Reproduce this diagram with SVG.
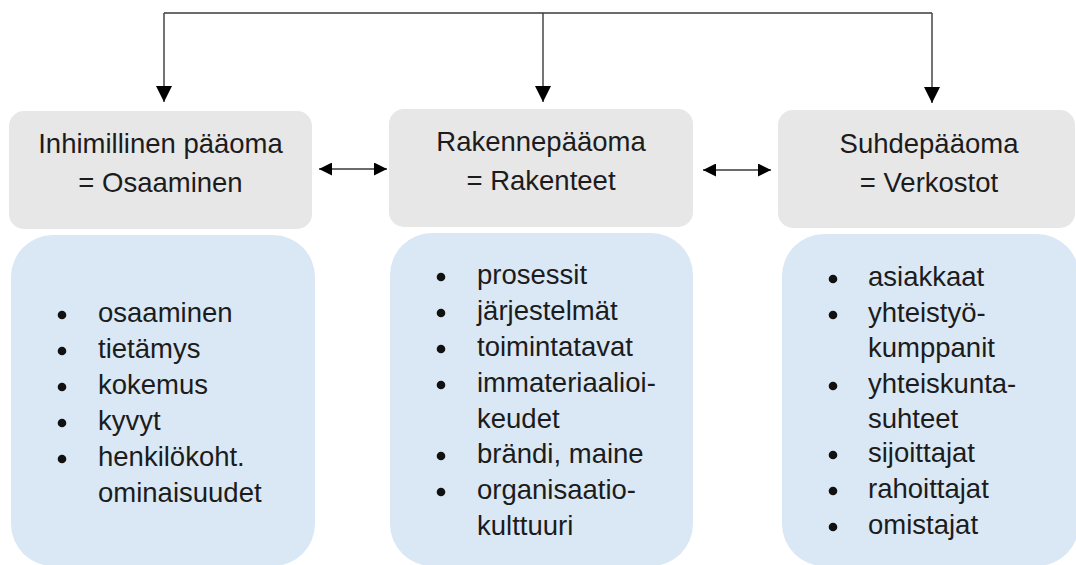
<svg xmlns="http://www.w3.org/2000/svg" width="1076" height="565" viewBox="0 0 1076 565">
<style>
.hdr{fill:#e7e7e7}
.lst{fill:#dae8f5}
.t{font-family:"Liberation Sans",Arial,sans-serif;font-size:27.5px;fill:#1c1c1c}
.c{text-anchor:middle}
.dot{fill:#111}
.ln{stroke:#3a3a3a;stroke-width:1.4;fill:none}
</style>
<defs>
<marker id="ah" markerUnits="userSpaceOnUse" markerWidth="16" markerHeight="16" viewBox="0 0 14 14" refX="14" refY="7" orient="auto-start-reverse">
<path d="M0,0 L14,7 L0,14 Z" fill="#000"/>
</marker>
<marker id="ah2" markerUnits="userSpaceOnUse" markerWidth="13" markerHeight="13" viewBox="0 0 12 12" refX="12" refY="6" orient="auto-start-reverse">
<path d="M0,0 L12,6 L0,12 Z" fill="#000"/>
</marker>
</defs>
<g id="connectors">
<path class="ln" d="M164,13 L932,13"/>
<path class="ln" d="M164,13 L164,102" marker-end="url(#ah)"/>
<path class="ln" d="M543,13 L543,102" marker-end="url(#ah)"/>
<path class="ln" d="M932,13 L932,103" marker-end="url(#ah)"/>
<path class="ln" d="M319,169 L387,169" marker-start="url(#ah2)" marker-end="url(#ah2)"/>
<path class="ln" d="M703,170 L771,170" marker-start="url(#ah2)" marker-end="url(#ah2)"/>
</g>
<g id="node-inhimillinen">
<rect class="hdr" x="9" y="111" width="303" height="118" rx="15"/>
<text class="t c" x="160.5" y="153">Inhimillinen pääoma</text>
<text class="t c" x="160.5" y="192">= Osaaminen</text>
</g>
<g id="node-rakenne">
<rect class="hdr" x="389" y="109" width="304" height="118" rx="15"/>
<text class="t c" x="541" y="151">Rakennepääoma</text>
<text class="t c" x="541" y="190">= Rakenteet</text>
</g>
<g id="node-suhde">
<rect class="hdr" x="778" y="110" width="297" height="118" rx="15"/>
<text class="t c" x="929" y="153">Suhdepääoma</text>
<text class="t c" x="929" y="192">= Verkostot</text>
</g>
<g id="list-inhimillinen">
<rect class="lst" x="11" y="235" width="304" height="331" rx="42"/>
<circle class="dot" cx="62" cy="315" r="4.3"/>
<circle class="dot" cx="62" cy="351" r="4.3"/>
<circle class="dot" cx="62" cy="387" r="4.3"/>
<circle class="dot" cx="62" cy="423" r="4.3"/>
<circle class="dot" cx="62" cy="459" r="4.3"/>
<text class="t" x="98" y="322">osaaminen</text>
<text class="t" x="98" y="358">tietämys</text>
<text class="t" x="98" y="394">kokemus</text>
<text class="t" x="98" y="430">kyvyt</text>
<text class="t" x="98" y="466">henkilökoht.</text>
<text class="t" x="98" y="502">ominaisuudet</text>
</g>
<g id="list-rakenne">
<rect class="lst" x="390" y="233" width="303" height="333" rx="42"/>
<circle class="dot" cx="441" cy="277" r="4.3"/>
<circle class="dot" cx="441" cy="313" r="4.3"/>
<circle class="dot" cx="441" cy="349" r="4.3"/>
<circle class="dot" cx="441" cy="385" r="4.3"/>
<circle class="dot" cx="441" cy="456" r="4.3"/>
<circle class="dot" cx="441" cy="492" r="4.3"/>
<text class="t" x="477" y="284">prosessit</text>
<text class="t" x="477" y="320">järjestelmät</text>
<text class="t" x="477" y="356">toimintatavat</text>
<text class="t" x="477" y="392">immateriaalioi-</text>
<text class="t" x="477" y="428">keudet</text>
<text class="t" x="477" y="463">brändi, maine</text>
<text class="t" x="477" y="499">organisaatio-</text>
<text class="t" x="477" y="535">kulttuuri</text>
</g>
<g id="list-suhde">
<rect class="lst" x="782" y="234" width="297" height="332" rx="42"/>
<circle class="dot" cx="833" cy="279" r="4.3"/>
<circle class="dot" cx="833" cy="315" r="4.3"/>
<circle class="dot" cx="833" cy="386" r="4.3"/>
<circle class="dot" cx="833" cy="455" r="4.3"/>
<circle class="dot" cx="833" cy="491" r="4.3"/>
<circle class="dot" cx="833" cy="527" r="4.3"/>
<text class="t" x="868" y="286">asiakkaat</text>
<text class="t" x="868" y="322">yhteistyö-</text>
<text class="t" x="868" y="357">kumppanit</text>
<text class="t" x="868" y="393">yhteiskunta-</text>
<text class="t" x="868" y="428">suhteet</text>
<text class="t" x="868" y="462">sijoittajat</text>
<text class="t" x="868" y="498">rahoittajat</text>
<text class="t" x="868" y="534">omistajat</text>
</g>
</svg>
